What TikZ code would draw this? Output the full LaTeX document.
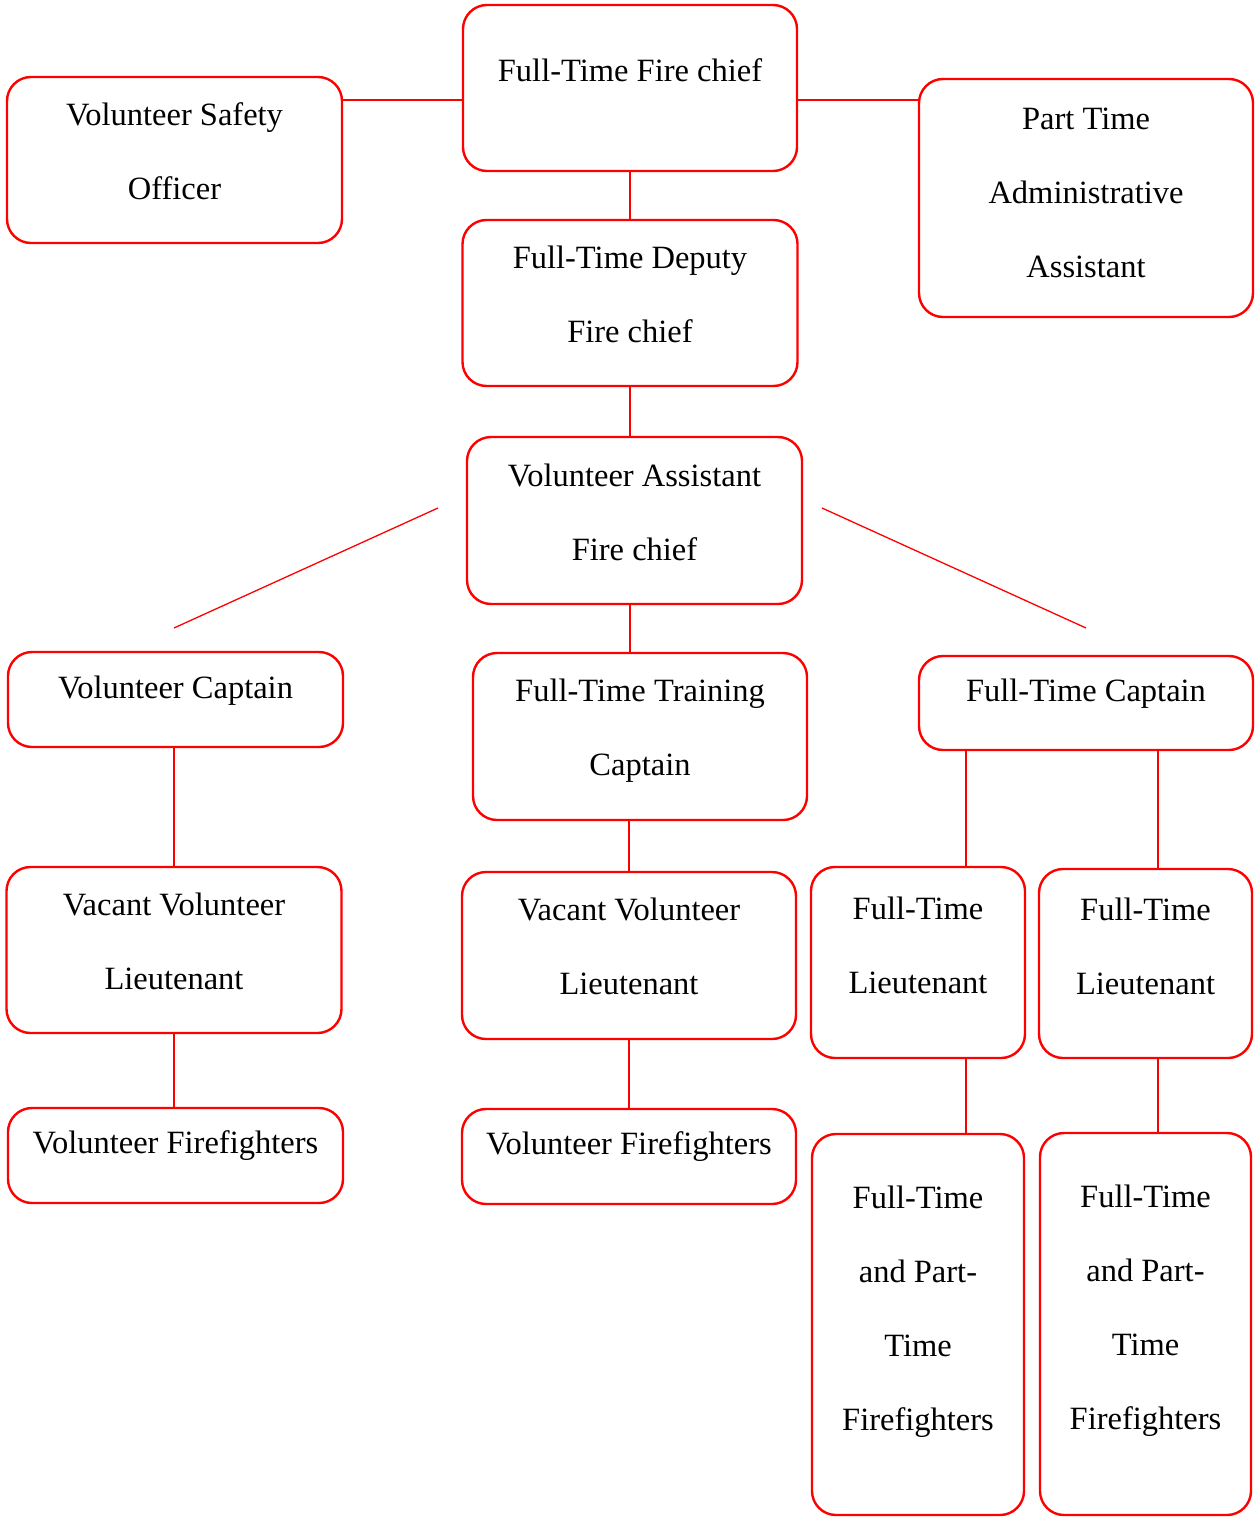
\documentclass[tikz,border=0pt]{standalone}
\usepackage{fontspec}
\setmainfont{Liberation Serif}
\usetikzlibrary{calc}
\tikzstyle{rank} = [rectangle, draw=red, line width=2.4pt, rounded corners=24pt,
    inner sep=0pt]
\tikzstyle{title} = [anchor=north, align=center, inner sep=0pt,
    font={\fontsize{32.5}{74}\selectfont}]
\tikzstyle{link} = [draw=red, line width=1.3pt]

\begin{document}
\begin{tikzpicture}[x=1pt,y=-1pt]
  \useasboundingbox (0,0) rectangle (1259,1522);

  % boxes
  \node[rank, minimum width=334pt, minimum height=166pt] (chief)  at (630,88) {};
  \node[rank, minimum width=335pt, minimum height=166pt] (safety) at (174.5,160) {};
  \node[rank, minimum width=334pt, minimum height=238pt] (admin)  at (1086,198) {};
  \node[rank, minimum width=335pt, minimum height=166pt] (deputy) at (630,303) {};
  \node[rank, minimum width=335pt, minimum height=167pt] (asst)   at (634.5,520.5) {};
  \node[rank, minimum width=335pt, minimum height=95pt]  (volcap) at (175.5,699.5) {};
  \node[rank, minimum width=334pt, minimum height=167pt] (train)  at (640,736.5) {};
  \node[rank, minimum width=334pt, minimum height=94pt]  (ftcap)  at (1086,703) {};
  \node[rank, minimum width=335pt, minimum height=166pt] (vacl)   at (174,950) {};
  \node[rank, minimum width=334pt, minimum height=167pt] (vacm)   at (629,955.5) {};
  \node[rank, minimum width=214pt, minimum height=191pt] (lta)    at (918,962.5) {};
  \node[rank, minimum width=213pt, minimum height=189pt] (ltb)    at (1145.5,963.5) {};
  \node[rank, minimum width=335pt, minimum height=95pt]  (vffl)   at (175.5,1155.5) {};
  \node[rank, minimum width=334pt, minimum height=95pt]  (vffm)   at (629,1156.5) {};
  \node[rank, minimum width=212pt, minimum height=381pt] (ffa)    at (918,1324.5) {};
  \node[rank, minimum width=211pt, minimum height=382pt] (ffb)    at (1145.5,1324) {};

  % texts
  \node[title] (chieftext)  at ([yshift=-55pt]chief.north)  {Full-Time Fire chief};
  \node[title] (safetytext) at ([yshift=-27pt]safety.north) {Volunteer Safety\\Officer};
  \node[title] (admintext)  at ([yshift=-30pt]admin.north)  {Part Time\\Administrative\\Assistant};
  \node[title] (deputytext) at ([yshift=-27pt]deputy.north) {Full-Time Deputy\\Fire chief};
  \node[title] (assttext)   at ([yshift=-28pt]asst.north)   {Volunteer Assistant\\Fire chief};
  \node[title] (volcaptext) at ([yshift=-25pt]volcap.north) {Volunteer Captain};
  \node[title] (traintext)  at ([yshift=-27pt]train.north)  {Full-Time Training\\Captain};
  \node[title] (ftcaptext)  at ([yshift=-24pt]ftcap.north)  {Full-Time Captain};
  \node[title] (vacltext)   at ([yshift=-27pt]vacl.north)   {Vacant Volunteer\\Lieutenant};
  \node[title] (vacmtext)   at ([yshift=-27pt]vacm.north)   {Vacant Volunteer\\Lieutenant};
  \node[title] (ltatext)    at ([yshift=-31pt]lta.north)    {Full-Time\\Lieutenant};
  \node[title] (ltbtext)    at ([yshift=-30pt]ltb.north)    {Full-Time\\Lieutenant};
  \node[title] (vffltext)   at ([yshift=-24pt]vffl.north)   {Volunteer Firefighters};
  \node[title] (vffmtext)   at ([yshift=-24pt]vffm.north)   {Volunteer Firefighters};
  \node[title] (ffatext)    at ([yshift=-53pt]ffa.north)    {Full-Time\\and Part-\\Time\\Firefighters};
  \node[title] (ffbtext)    at ([yshift=-53pt]ffb.north)    {Full-Time\\and Part-\\Time\\Firefighters};

  % connectors
  \coordinate (chiefL) at ([yshift=-12pt]chief.west);
  \coordinate (chiefR) at ([yshift=-12pt]chief.east);
  \coordinate (splitL)    at (438,508);
  \coordinate (splitLend) at (174,628);
  \coordinate (splitR)    at (822,508);
  \coordinate (splitRend) at (1086,628);
  \coordinate (capA) at ([xshift=48pt]lta.north);
  \coordinate (capB) at ([xshift=12.5pt]ltb.north);

  \draw[link] (chiefL) -- (chiefL -| safety.east);
  \draw[link] (chiefR) -- (chiefR -| admin.west);
  \draw[link] (chief.south) -- (chief.south |- deputy.north);
  \draw[link] (deputy.south) -- (deputy.south |- asst.north);
  \draw[link] (splitL) -- (splitLend);
  \draw[link] (splitR) -- (splitRend);
  \draw[link] (deputy.south |- asst.south) -- (deputy.south |- train.north);
  \draw[link] (vacl.north |- volcap.south) -- (vacl.north);
  \draw[link] (vacm.north |- train.south) -- (vacm.north);
  \draw[link] (capA |- ftcap.south) -- (capA);
  \draw[link] (capB |- ftcap.south) -- (capB);
  \draw[link] (vacl.south) -- (vacl.south |- vffl.north);
  \draw[link] (vacm.south) -- (vacm.south |- vffm.north);
  \draw[link] (capA |- lta.south) -- (capA |- ffa.north);
  \draw[link] (capB |- ltb.south) -- (capB |- ffb.north);
\end{tikzpicture}
\end{document}
